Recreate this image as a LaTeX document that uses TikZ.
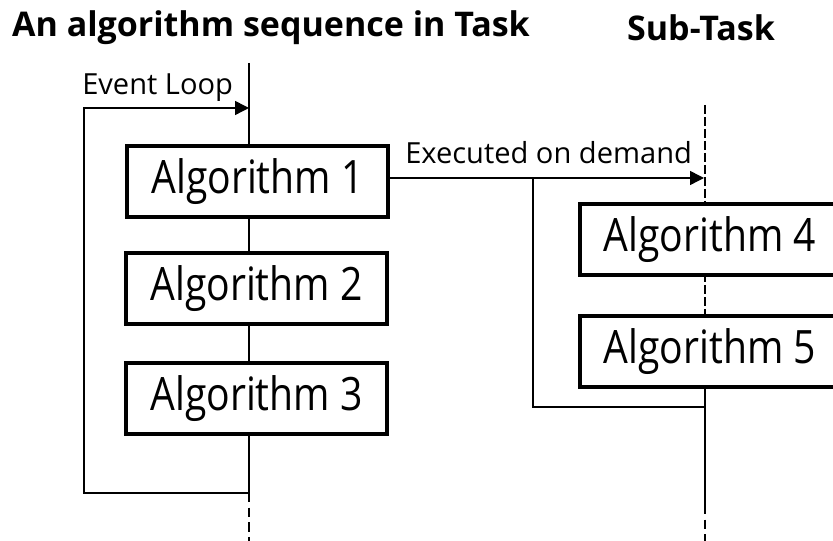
\documentclass[tikz,border=0pt]{standalone}
\usepackage{fontspec}
\setmainfont{Open Sans}
\newfontfamily\boxfont[FakeStretch=0.85]{Open Sans}
\usetikzlibrary{arrows.meta}
\newcommand{\boxtxt}[1]{\raisebox{-2.5pt}{#1}}
\begin{document}
\begin{tikzpicture}[x=0.75pt,y=-0.75pt,
  algbox/.style={draw, fill=white, line width=3pt, minimum width=195.75pt,
    minimum height=53.25pt, inner sep=0pt, font=\boxfont\fontsize{34.5}{40}\selectfont},
  conn/.style={line width=1.1pt},
  tip/.style={-{Triangle[length=10.5pt,width=10.5pt]}},
  lbl/.style={inner sep=0pt, font=\fontsize{21.8}{24}\selectfont},
  ttl/.style={inner sep=0pt, font=\bfseries\fontsize{25.5}{30}\selectfont},
  longdash/.style={dash pattern=on 7pt off 4pt},
  shortdash/.style={dash pattern=on 7pt off 2pt}]
\useasboundingbox (0,0) rectangle (833,541);
\clip (0,0) rectangle (833,541);
% titles
\node[ttl] (t1) at (271,28) {An algorithm sequence in Task};
\node[ttl] (t2) at (701,28) {Sub-Task};
% lifeline coordinates
\coordinate (Ltop) at (249,63);
\coordinate (Lloop) at (249,493);
\coordinate (Lbot) at (249,541);
\coordinate (Ltip) at (249,108);
\coordinate (Lcorner1) at (84,108);
\coordinate (Lcorner2) at (84,493);
\coordinate (Rtop) at (705,105);
\coordinate (Rret) at (705,407);
\coordinate (Rsolid) at (705,505);
\coordinate (Rbot) at (705,541);
\coordinate (Bsplit) at (533,178);
\coordinate (Bcorner) at (533,407);
\coordinate (Rarrow) at (704,178);
% left lifeline
\draw[conn] (Ltop) -- (Lloop);
\draw[conn, longdash] (Lloop) -- (Lbot);
% right lifeline
\draw[conn, shortdash] (Rtop) -- (705,390);
\draw[conn] (705,390) -- (Rsolid);
\draw[conn, longdash] (Rsolid) -- (Rbot);
% event loop
\draw[conn, tip] (Lloop) -- (Lcorner2) -- (Lcorner1) -- (Ltip);
\node[lbl, anchor=base west] (el) at (82,95) {Event Loop};
% boxes
\node[algbox] (a1) at (257.5,181.5) {\boxtxt{Algorithm 1}};
\node[algbox] (a2) at (256.5,288.5) {\boxtxt{Algorithm 2}};
\node[algbox] (a3) at (256.5,398.5) {\boxtxt{Algorithm 3}};
\node[algbox] (a4) at (710,240) {\boxtxt{Algorithm 4}};
\node[algbox] (a5) at (710,352) {\boxtxt{Algorithm 5}};
% executed on demand
\draw[conn, tip] (a1.east |- Bsplit) -- (Rarrow);
\draw[conn] (Bsplit) -- (Bcorner) -- (Rret);
\node[lbl, anchor=base west] (ed) at (405,164) {Executed on demand};
\end{tikzpicture}
\end{document}
